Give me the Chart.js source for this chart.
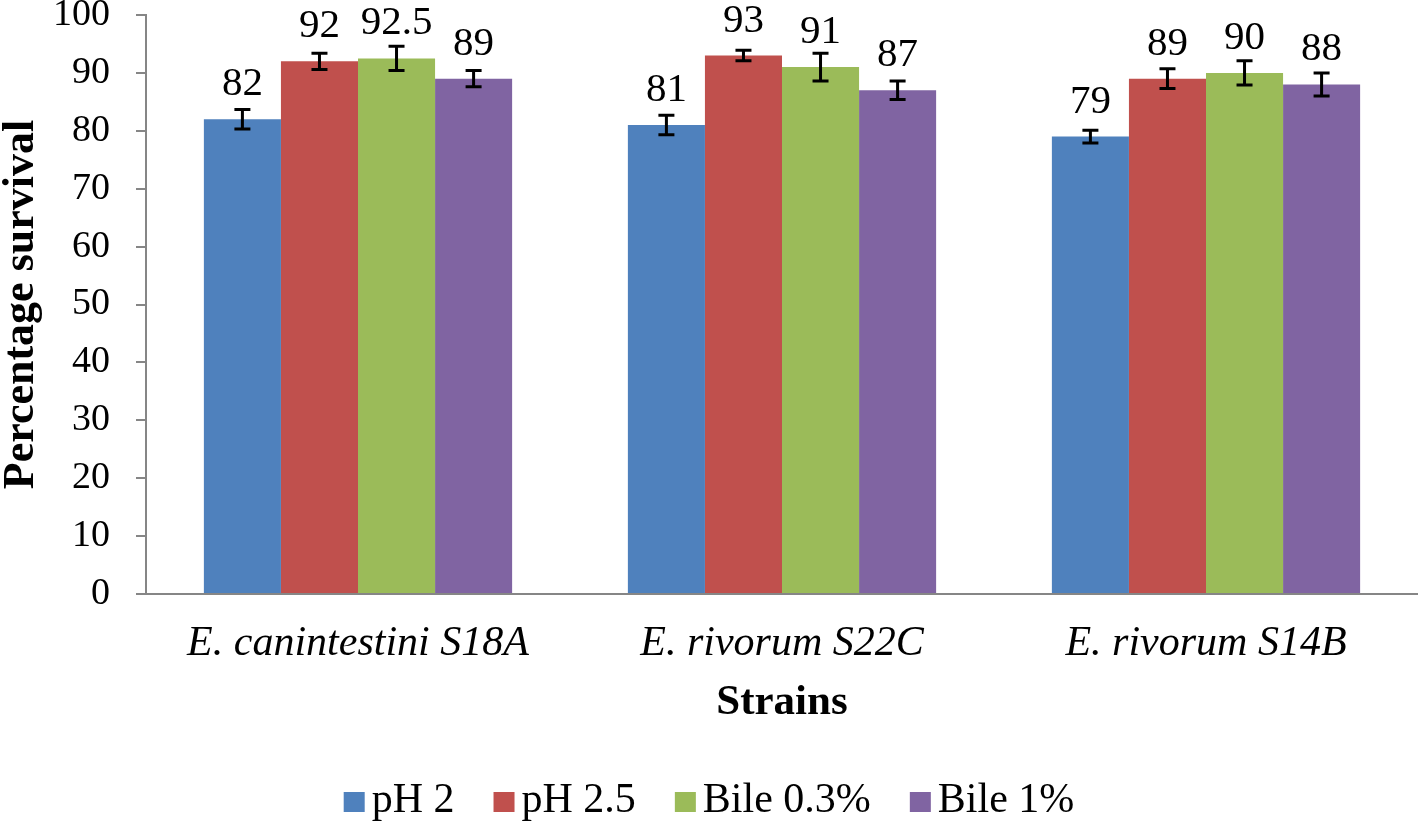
<!DOCTYPE html>
<html>
<head>
<meta charset="utf-8">
<script src="https://cdn.jsdelivr.net/npm/chart.js@4/dist/chart.umd.min.js"></script>
<style>
  body { margin: 0; background: #fff; }
  #wrap { width: 1418px; height: 823px; }
</style>
</head>
<body>
<div id="wrap"><canvas id="chart"></canvas></div>
<script>
var strains = ["E. canintestini S18A", "E. rivorum S22C", "E. rivorum S14B"];
var seriesNames = ["pH 2", "pH 2.5", "Bile 0.3%", "Bile 1%"];
var seriesColors = ["#4F81BD", "#C0504D", "#9BBB59", "#8064A2"];

var ph2 = [82, 81, 79];
var ph25 = [92, 93, 89];
var bile03 = [92.5, 91, 90];
var bile1 = [89, 87, 88];

var ph2Err = [1.7, 1.7, 1.1];
var ph25Err = [1.4, 0.9, 1.7];
var bile03Err = [2.1, 2.4, 2.1];
var bile1Err = [1.4, 1.6, 2.0];

var yTicks = [0, 10, 20, 30, 40, 50, 60, 70, 80, 90, 100];

var values = [ph2, ph25, bile03, bile1];
var errors = [ph2Err, ph25Err, bile03Err, bile1Err];
var serif = "'Liberation Serif', 'Times New Roman', serif";

// error bars + value labels drawn on top of the bars
var extras = {
  id: 'extras',
  afterDatasetsDraw: function(chart) {
    var ctx = chart.ctx;
    var y = chart.scales.y;
    ctx.save();
    chart.data.datasets.forEach(function(ds, i) {
      var meta = chart.getDatasetMeta(i);
      meta.data.forEach(function(bar, j) {
        var v = ds.data[j];
        var e = errors[i][j];
        var top = y.getPixelForValue(v + e);
        var bot = y.getPixelForValue(v - e);
        ctx.strokeStyle = '#000';
        ctx.lineWidth = 3;
        ctx.beginPath();
        ctx.moveTo(bar.x, top); ctx.lineTo(bar.x, bot);
        ctx.moveTo(bar.x - 8, top); ctx.lineTo(bar.x + 8, top);
        ctx.moveTo(bar.x - 8, bot); ctx.lineTo(bar.x + 8, bot);
        ctx.stroke();

        ctx.fillStyle = '#000';
        ctx.font = '41px ' + serif;
        ctx.textAlign = 'center';
        ctx.textBaseline = 'alphabetic';
        ctx.fillText(String(v), bar.x, y.getPixelForValue(v) - 24);
      });
    });
    ctx.restore();
  }
};

// legend at the bottom, Excel-like spacing (small gap box -> text)
var bottomLegend = {
  id: 'bottomLegend',
  afterDraw: function(chart) {
    var ctx = chart.ctx;
    var boxW = 21, boxH = 20, gap = 7, spacing = 39;
    var baseline = 812;
    ctx.save();
    ctx.font = '42px ' + serif;
    var items = chart.data.datasets.map(function(ds) {
      return { text: ds.label, color: ds.backgroundColor, w: ctx.measureText(ds.label).width };
    });
    var total = 0;
    items.forEach(function(it, k) {
      total += boxW + gap + it.w + (k < items.length - 1 ? spacing : 0);
    });
    var x = (chart.width - total) / 2;
    items.forEach(function(it) {
      ctx.fillStyle = it.color;
      ctx.fillRect(x, baseline - boxH, boxW, boxH);
      ctx.fillStyle = '#000';
      ctx.textAlign = 'left';
      ctx.textBaseline = 'alphabetic';
      ctx.fillText(it.text, x + boxW + gap, baseline);
      x += boxW + gap + it.w + spacing;
    });
    ctx.restore();
  }
};

new Chart(document.getElementById('chart'), {
  type: 'bar',
  data: {
    labels: strains,
    datasets: values.map(function(d, i) {
      return {
        label: seriesNames[i],
        data: d,
        backgroundColor: seriesColors[i],
        borderWidth: 0,
        categoryPercentage: 0.727,
        barPercentage: 1.0
      };
    })
  },
  options: {
    responsive: true,
    maintainAspectRatio: false,
    animation: false,
    layout: { padding: { top: 15, left: 0, right: 0, bottom: 94 } },
    plugins: {
      tooltip: { enabled: false },
      legend: { display: false }
    },
    scales: {
      x: {
        afterFit: function(scale) {
          scale.height = 135;
          scale.paddingLeft = 0;
          scale.paddingRight = 0;
        },
        grid: { display: false },
        border: { display: true, color: '#868686', width: 2 },
        ticks: {
          color: '#000',
          font: { family: serif, size: 42, style: 'italic' },
          padding: 17
        },
        title: {
          display: true,
          text: 'Strains',
          color: '#000',
          font: { family: serif, size: 43, weight: 'bold' },
          padding: { top: 0, bottom: 0 }
        }
      },
      y: {
        min: 0,
        max: 100,
        afterBuildTicks: function(scale) {
          scale.ticks = yTicks.map(function(v) { return { value: v }; });
        },
        afterFit: function(scale) {
          scale.width = 146;
          scale.paddingTop = 0;
          scale.paddingBottom = 0;
        },
        grid: {
          display: true,
          drawOnChartArea: false,
          drawTicks: true,
          tickLength: 10,
          color: '#868686',
          lineWidth: 2
        },
        border: { display: true, color: '#868686', width: 2 },
        ticks: {
          color: '#000',
          font: { family: serif, size: 38 },
          padding: 26
        },
        title: {
          display: true,
          text: 'Percentage survival',
          color: '#000',
          font: { family: serif, size: 44, weight: 'bold' },
          padding: { top: -5, bottom: 0 }
        }
      }
    }
  },
  plugins: [extras, bottomLegend]
});
</script>
</body>
</html>
